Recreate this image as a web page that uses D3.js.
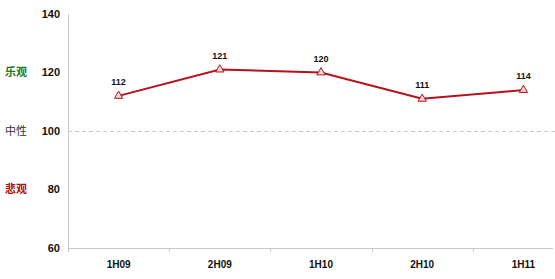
<!DOCTYPE html>
<html><head><meta charset="utf-8">
<script src="https://cdn.jsdelivr.net/npm/d3@7"></script>
<style>body{margin:0;background:#fff}svg{display:block}</style>
</head><body>
<svg id="c" width="555" height="279"></svg>
<script>
const categories = ["1H09","2H09","1H10","2H10","1H11"];
const values = [112,121,120,111,114];
const yTicks = [60,80,100,120,140];
const sentimentLabels = [
  {text:"乐观", v:120, color:"#1a7a1a"},
  {text:"中性", v:100, color:"#333333"},
  {text:"悲观", v:80, color:"#b01010"}
];

const svg = d3.select("#c");
const x = d3.scaleBand().domain(categories).range([68, 68 + 5*101.2]);
const y = d3.scaleLinear().domain([60,140]).range([248,14]);
const font = "'Liberation Sans', Arial, sans-serif";

// y axis line
svg.append("line").attr("x1",68.5).attr("x2",68.5).attr("y1",y(140)).attr("y2",y(60))
  .attr("stroke","#c8c8c8").attr("stroke-width",1);
// bottom axis
svg.append("line").attr("x1",68).attr("x2",553).attr("y1",y(60)+0.5).attr("y2",y(60)+0.5)
  .attr("stroke","#c8c8c8").attr("stroke-width",1);
// x tick marks at band boundaries
categories.forEach(c=>{
  svg.append("line").attr("x1",Math.round(x(c))+0.5).attr("x2",Math.round(x(c))+0.5)
    .attr("y1",y(60)).attr("y2",y(60)+4).attr("stroke","#c8c8c8");
});
// dashed neutral line
svg.append("line").attr("x1",68).attr("x2",555).attr("y1",y(100)+0.5).attr("y2",y(100)+0.5)
  .attr("stroke","#c8c8c8").attr("stroke-dasharray","4,3");

// y tick labels
svg.selectAll(".yt").data(yTicks).enter().append("text")
  .attr("x",60).attr("y",d=>y(d)).attr("dy","0.35em").attr("text-anchor","end")
  .attr("font-family",font).attr("font-weight","bold").attr("font-size",11).attr("fill","#111")
  .text(d=>d);
// sentiment labels
svg.selectAll(".sl").data(sentimentLabels).enter().append("text")
  .attr("x",16).attr("y",d=>y(d.v)).attr("dy","0.35em").attr("text-anchor","middle")
  .attr("font-family","'Noto Sans CJK SC', sans-serif").attr("font-size",11).attr("fill",d=>d.color)
  .attr("font-weight",d=>d.v===100?"normal":"bold")
  .text(d=>d.text);
// x labels
svg.selectAll(".xt").data(categories).enter().append("text")
  .attr("x",d=>x(d)+x.bandwidth()/2).attr("y",264).attr("dy","0.35em").attr("text-anchor","middle")
  .attr("font-family",font).attr("font-weight","bold").attr("font-size",10).attr("fill","#111")
  .text(d=>d);

// line
const pts = categories.map((c,i)=>[x(c)+x.bandwidth()/2, y(values[i])]);
svg.append("path").attr("d",d3.line()(pts)).attr("fill","none")
  .attr("stroke","#b5121b").attr("stroke-width",2);
// markers
const tri = d3.symbol().type(d3.symbolTriangle).size(30);
svg.selectAll(".m").data(pts).enter().append("path")
  .attr("d",tri).attr("transform",d=>`translate(${d[0]},${d[1]})`)
  .attr("fill","#f4d6d6").attr("stroke","#b5121b").attr("stroke-width",1);
// data labels
svg.selectAll(".dl").data(values).enter().append("text")
  .attr("x",(d,i)=>pts[i][0]).attr("y",(d,i)=>pts[i][1]-11)
  .attr("text-anchor","middle").attr("font-family",font).attr("font-weight","bold")
  .attr("font-size",9).attr("fill","#111").text(d=>d);
</script>
</body></html>
